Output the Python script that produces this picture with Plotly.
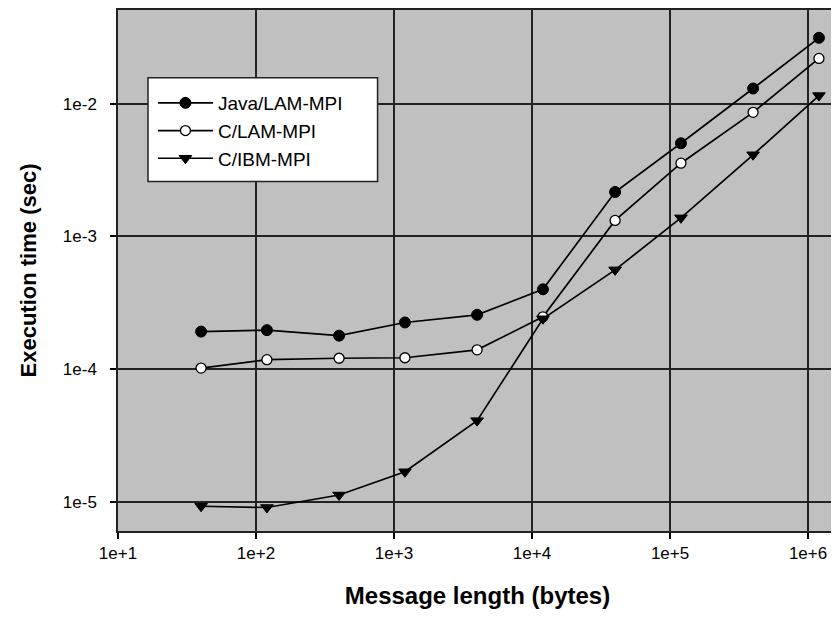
import plotly.graph_objects as go

msg_len = [40, 120, 400, 1200, 4000, 12000, 40000, 120000, 400000, 1200000]
java_lam = [1.92e-4, 1.97e-4, 1.79e-4, 2.25e-4, 2.57e-4, 4.0e-4, 2.16e-3, 5.03e-3, 1.30e-2, 3.13e-2]
c_lam = [1.02e-4, 1.18e-4, 1.21e-4, 1.22e-4, 1.40e-4, 2.48e-4, 1.32e-3, 3.56e-3, 8.6e-3, 2.19e-2]
c_ibm = [9.3e-6, 9.1e-6, 1.13e-5, 1.69e-5, 4.1e-5, 2.4e-4, 5.6e-4, 1.38e-3, 4.12e-3, 1.15e-2]

x_ticks = [1e1, 1e2, 1e3, 1e4, 1e5, 1e6]
x_ticktext = ["1e+1", "1e+2", "1e+3", "1e+4", "1e+5", "1e+6"]
y_ticks = [1e-5, 1e-4, 1e-3, 1e-2]
y_ticktext = ["1e-5", "1e-4", "1e-3", "1e-2"]

FONT = "Liberation Sans, Arial, sans-serif"

fig = go.Figure()
fig.add_trace(go.Scatter(
    x=msg_len, y=java_lam, name="Java/LAM-MPI", mode="lines+markers",
    line=dict(color="black", width=1.7),
    marker=dict(symbol="circle", size=11, color="black", line=dict(color="black", width=1))))
fig.add_trace(go.Scatter(
    x=msg_len, y=c_lam, name="C/LAM-MPI", mode="lines+markers",
    line=dict(color="black", width=1.7),
    marker=dict(symbol="circle", size=10, color="white", line=dict(color="black", width=1.3))))
fig.add_trace(go.Scatter(
    x=msg_len, y=c_ibm, name="C/IBM-MPI", mode="lines+markers",
    line=dict(color="black", width=1.7),
    marker=dict(symbol="triangle-down", size=11, color="black", line=dict(color="black", width=1))))

# white legend frame
fig.add_shape(type="rect", xref="paper", yref="paper",
              x0=0.0417, x1=0.361, y0=0.671, y1=0.870,
              fillcolor="white", line=dict(color="#222222", width=1.5), layer="above")

fig.update_layout(
    width=831, height=616,
    margin=dict(l=110, r=1, t=0, b=93),
    paper_bgcolor="white", plot_bgcolor="#c0c0c0",
    font=dict(family=FONT, color="black", size=16),
    showlegend=True,
    legend=dict(
        x=0.0486, y=0.858, xanchor="left", yanchor="top",
        bgcolor="rgba(0,0,0,0)", borderwidth=0,
        font=dict(family=FONT, size=19, color="black"),
        itemwidth=55,
    ),
)
fig.update_xaxes(
    type="log", range=[1, 6.21],
    tickvals=x_ticks, ticktext=x_ticktext,
    ticks="outside", ticklen=6, tickwidth=1.5, tickcolor="black",
    showgrid=True, gridcolor="#222222", gridwidth=1.5,
    showline=True, linecolor="#222222", linewidth=1.5, mirror=True,
    zeroline=False,
    tickfont=dict(family=FONT, size=17),
    title=dict(text="<b>Message length (bytes)</b>", font=dict(family=FONT, size=24), standoff=25),
)
fig.update_yaxes(
    type="log", range=[-5.218, -1.295],
    tickvals=y_ticks, ticktext=y_ticktext,
    ticks="outside", ticklen=6, tickwidth=1.5, tickcolor="black",
    showgrid=True, gridcolor="#222222", gridwidth=1.5,
    showline=True, linecolor="#222222", linewidth=1.5, mirror=True,
    zeroline=False,
    tickfont=dict(family=FONT, size=17),
    ticklabelstandoff=10,
    title=dict(text="<b>Execution time (sec)</b>", font=dict(family=FONT, size=22), standoff=20),
)

fig.write_html("out.html")
